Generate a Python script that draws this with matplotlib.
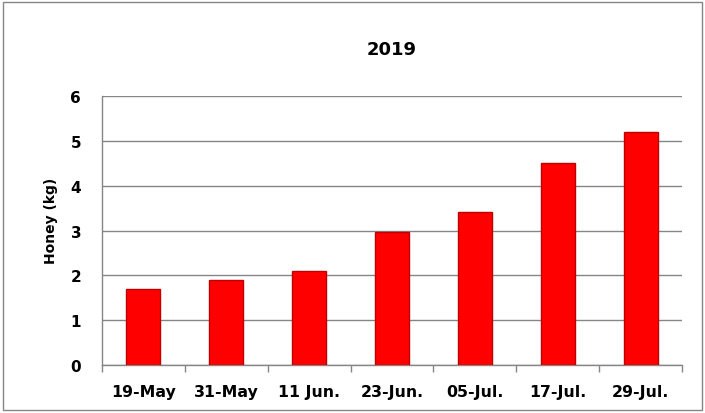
import matplotlib.pyplot as plt
from matplotlib.patches import Rectangle

dates = ['19-May', '31-May', '11 Jun.', '23-Jun.', '05-Jul.', '17-Jul.', '29-Jul.']
honey = [1.7, 1.9, 2.1, 2.97, 3.42, 4.5, 5.2]
yticks = [0, 1, 2, 3, 4, 5, 6]

plt.rcParams['font.family'] = ['DejaVu Sans']
plt.rcParams['font.weight'] = 'bold'

fig = plt.figure(figsize=(7.05, 4.14), dpi=100)
ax = fig.add_axes([102 / 705, 1 - 366 / 414, 580 / 705, 269 / 414])

x = range(len(dates))
ax.bar(x, honey, width=0.41, color='#FF0000', edgecolor='#C00000', linewidth=1, zorder=3)

ax.set_xlim(-0.5, len(dates) - 0.5)
ax.set_ylim(0, 6)
ax.set_yticks(yticks)
ax.set_xticks(x)
ax.set_xticklabels(dates, fontsize=11.3, fontweight='bold')
ax.set_yticklabels([str(t) for t in yticks], fontsize=11, fontweight='bold')

# category boundary ticks like Excel
ax.set_xticks([i - 0.5 for i in range(len(dates) + 1)], minor=True)
ax.tick_params(axis='x', which='major', length=0, pad=14)
ax.tick_params(axis='x', which='minor', length=5, color='#868686', width=1)
ax.tick_params(axis='y', length=0, pad=15)

ax.grid(axis='y', color='#868686', linewidth=1, zorder=0)
for side in ['top', 'right']:
    ax.spines[side].set_visible(False)
for side in ['left', 'bottom']:
    ax.spines[side].set_color('#868686')
    ax.spines[side].set_linewidth(1)

ax.set_ylabel('Honey (kg)', fontsize=10, fontweight='bold', labelpad=9, y=0.54)
fig.text(0.5 * (102 + 682) / 705, 1 - 50 / 414, '2019', ha='center', va='center',
         fontsize=13, fontweight='bold')

fig.patches.append(Rectangle((3 / 705, 3 / 414), 699 / 705, 408 / 414, transform=fig.transFigure,
                             fill=False, edgecolor='#868686', linewidth=1))

fig.savefig('out.png', dpi=100)
